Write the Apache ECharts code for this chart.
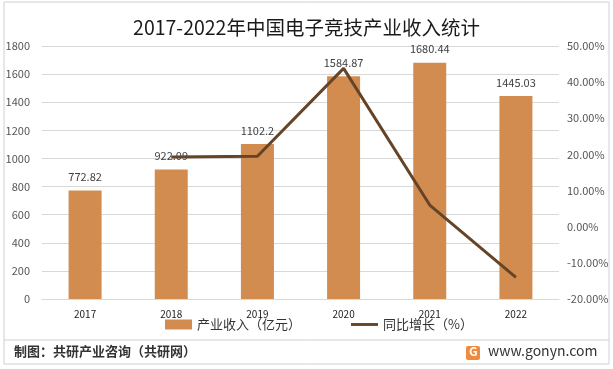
<!DOCTYPE html>
<html><head><meta charset="utf-8">
<script src="https://cdn.jsdelivr.net/npm/echarts@6/dist/echarts.min.js"></script>
<style>html,body{margin:0;padding:0;background:#fff}#c{width:613px;height:369px}</style>
</head><body><div id="c"></div>
<script>
var years = ['2017','2018','2019','2020','2021','2022'];
var revenue = [772.82, 922.09, 1102.2, 1584.87, 1680.44, 1445.03];
var growth = [null, 19.3, 19.5, 43.8, 6.0, -14.0];
var leftTicks = [0, 1800, 200];
var rightTicks = [-20, 50, 10];

var F = '"Noto Sans CJK SC", "Noto Sans", sans-serif';
var chart = echarts.init(document.getElementById('c'));
chart.setOption({
  animation: false,
  textStyle: {fontFamily: F},
  title: {text: '2017-2022年中国电子竞技产业收入统计', left: 'center', top: 13,
    textStyle: {fontSize: 19.5, fontWeight: 'normal', color: '#1a1a1a', fontFamily: F}},
  grid: {left: 42, right: 54, top: 46, bottom: 70},
  legend: {top: 313, left: 160, itemGap: 50, itemWidth: 27, itemHeight: 10,
    textStyle: {fontSize: 13, color: '#333'},
    data: [{name: '产业收入（亿元）', icon: 'rect'},
           {name: '同比增长（%）', icon: 'path://M0,4L28,4L28,7L0,7Z', itemStyle: {color: '#654428'}}]},
  xAxis: {type: 'category', data: years,
    axisLine: {lineStyle: {color: '#d9d9d9'}}, axisTick: {show: false},
    axisLabel: {color: '#222', fontSize: 10, margin: 10}},
  yAxis: [
    {type: 'value', min: leftTicks[0], max: leftTicks[1], interval: leftTicks[2],
     axisLabel: {color: '#555', fontSize: 11, margin: 12, formatter: function(v){return String(v);}},
     splitLine: {lineStyle: {color: '#d9d9d9'}}},
    {type: 'value', min: rightTicks[0], max: rightTicks[1], interval: rightTicks[2],
     axisLabel: {color: '#555', fontSize: 11, margin: 8, formatter: function(v){return v.toFixed(2)+'%';}},
     splitLine: {show: false}}
  ],
  series: [
    {name: '产业收入（亿元）', type: 'bar', data: revenue, barWidth: 33,
     itemStyle: {color: '#d38c4f'},
     label: {show: true, position: 'top', distance: 8, color: '#404040', fontSize: 11}},
    {name: '同比增长（%）', type: 'line', yAxisIndex: 1, data: growth,
     symbol: 'none', lineStyle: {color: '#654428', width: 3}, itemStyle: {color: '#654428'}}
  ],
  graphic: [
    {type: 'rect', shape: {x: 4, y: 2, width: 605, height: 362}, style: {fill: 'none', stroke: '#d0d0d0', lineWidth: 1}, silent: true},
    {type: 'line', shape: {x1: 4, y1: 340, x2: 609, y2: 340}, style: {stroke: '#d0d0d0', lineWidth: 1}},
    {type: 'text', left: 14, top: 345, style: {text: '制图：共研产业咨询（共研网）', fill: '#333', font: 'bold 13px ' + F}},
    {type: 'rect', shape: {x: 466, y: 346, width: 14, height: 14, r: 2}, style: {fill: '#f08a3c'}},
    {type: 'text', left: 469, top: 345, style: {text: 'G', fill: '#fff', font: 'bold 12px ' + F}},
    {type: 'text', left: 488, top: 344, style: {text: 'www.gonyn.com', fill: '#333', font: '14px ' + F}}
  ]
});
</script></body></html>
